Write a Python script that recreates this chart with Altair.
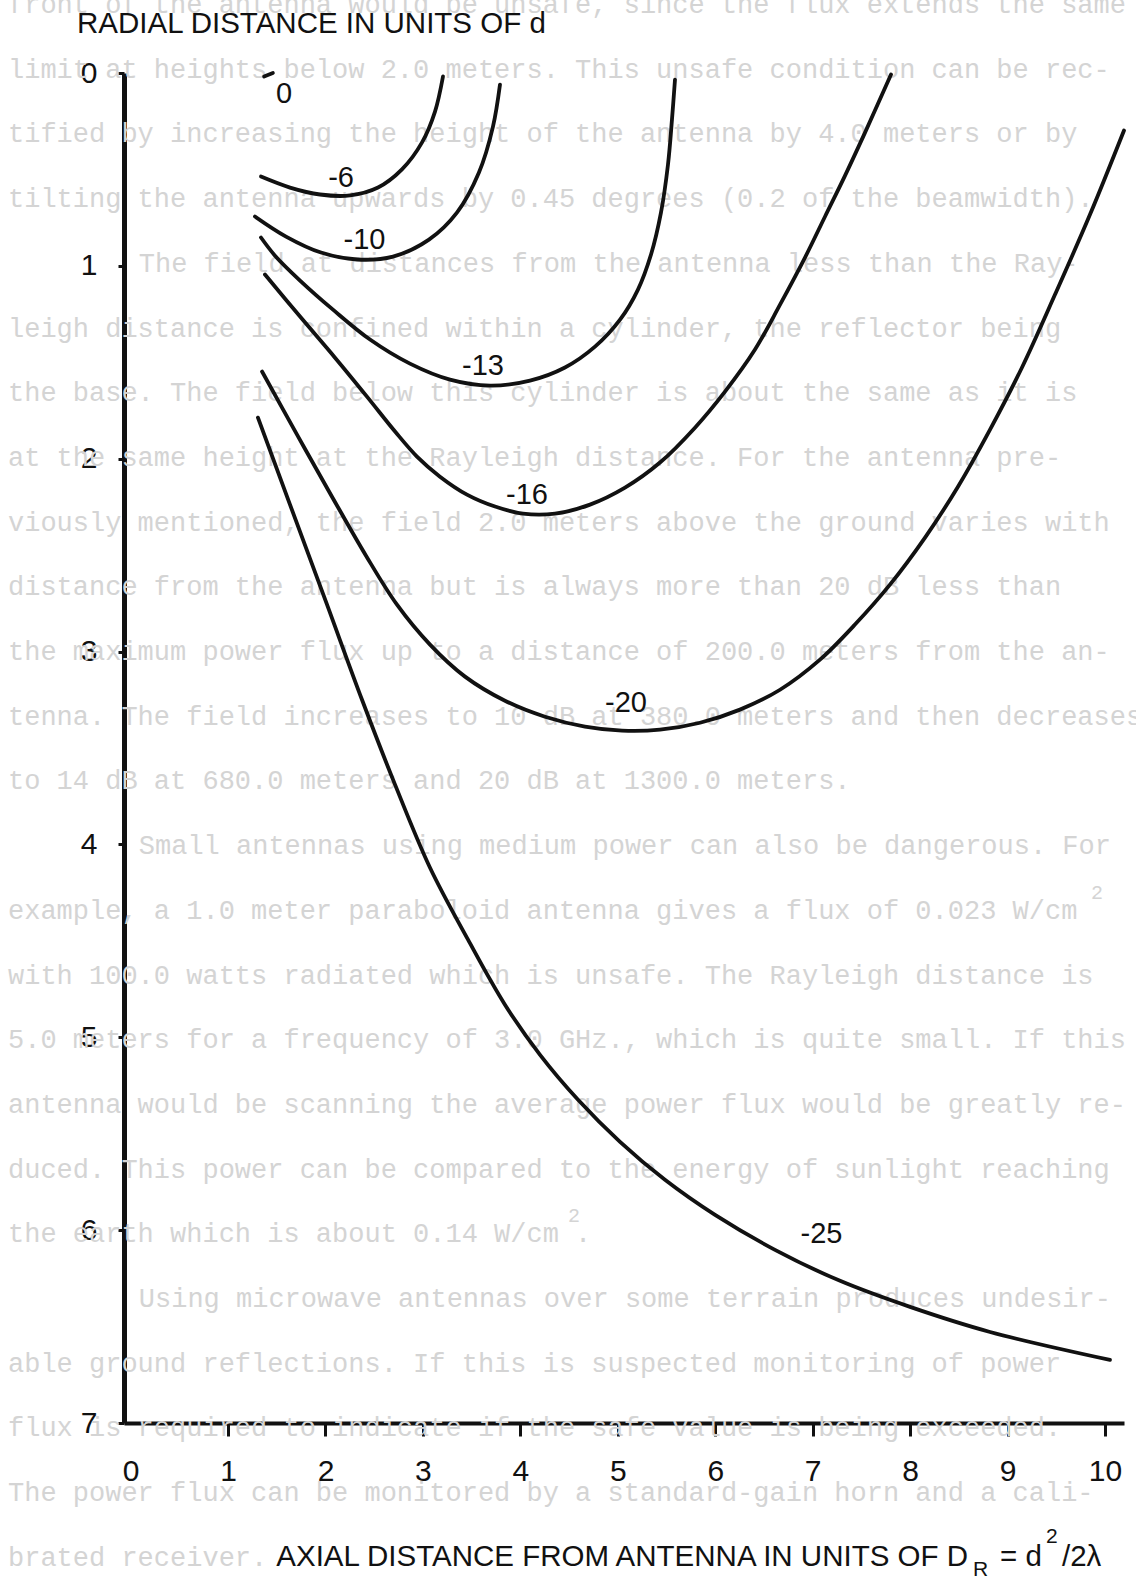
import altair as alt
import pandas as pd

# ---------------------------------------------------------------
# Near-field power-density contours (dB) of a paraboloid antenna
# ---------------------------------------------------------------
# axial distance in units of D_R = d^2/2lambda, radial distance in units of d

db0_x = [1.37, 1.46]
db0_y = [0.018, 0.0]

db6_x = [1.338, 1.636, 1.944, 2.252, 2.539, 2.785, 2.991, 3.124, 3.206]
db6_y = [0.537, 0.594, 0.630, 0.635, 0.594, 0.500, 0.360, 0.200, 0.018]

db10_x = [1.276, 1.595, 1.954, 2.323, 2.693, 3.062, 3.349, 3.575, 3.719, 3.791]
db10_y = [0.744, 0.848, 0.931, 0.967, 0.952, 0.864, 0.724, 0.516, 0.278, 0.060]

db13_x = [1.338, 1.482, 1.739, 2.077, 2.457, 2.867, 3.278, 3.689, 4.099, 4.458,
          4.766, 5.023, 5.207, 5.341, 5.443, 5.515, 5.556, 5.587]
db13_y = [0.853, 0.947, 1.076, 1.227, 1.382, 1.507, 1.590, 1.621, 1.595, 1.527,
          1.419, 1.279, 1.123, 0.941, 0.724, 0.475, 0.241, 0.034]

db16_x = [1.379, 1.739, 2.098, 2.426, 2.714, 2.939, 3.175, 3.452, 3.740, 4.027,
          4.356, 4.715, 5.074, 5.433, 5.792, 6.100, 6.408, 6.665, 6.921, 7.127,
          7.332, 7.537, 7.804]
db16_y = [1.045, 1.263, 1.476, 1.678, 1.859, 1.989, 2.093, 2.186, 2.248, 2.285,
          2.285, 2.238, 2.150, 2.020, 1.839, 1.652, 1.434, 1.201, 0.957, 0.744,
          0.532, 0.309, 0.008]

db20_x = [1.349, 1.708, 2.067, 2.416, 2.734, 3.073, 3.432, 3.842, 4.253, 4.663,
          5.043, 5.433, 5.844, 6.254, 6.665, 7.075, 7.434, 7.793, 8.153, 8.491,
          8.820, 9.148, 9.487, 9.846, 10.195]
db20_y = [1.548, 1.875, 2.197, 2.503, 2.757, 2.964, 3.130, 3.255, 3.338, 3.389,
          3.410, 3.405, 3.369, 3.301, 3.198, 3.042, 2.860, 2.653, 2.409, 2.145,
          1.849, 1.527, 1.149, 0.734, 0.298]

db25_x = [1.307, 1.636, 2.016, 2.375, 2.714, 3.073, 3.463, 3.842, 4.202, 4.592,
          5.023, 5.484, 5.998, 6.613, 7.281, 7.999, 8.820, 10.051]
db25_y = [1.787, 2.238, 2.757, 3.250, 3.690, 4.121, 4.494, 4.831, 5.091, 5.324,
          5.542, 5.739, 5.921, 6.102, 6.263, 6.398, 6.528, 6.673]

levels = ["0", "-6", "-10", "-13", "-16", "-20", "-25"]
label_x = [1.574, 2.16, 2.40, 3.617, 4.068, 5.084, 7.09]
label_y = [0.111, 0.542, 0.864, 1.517, 2.186, 3.265, 6.02]

x_ticks = list(range(0, 11))
y_ticks = list(range(0, 8))

# typed page text surrounding the figure
page_lines = [
    "front of the antenna would be unsafe, since the flux extends the same",
    "limit at heights below 2.0 meters. This unsafe condition can be rec-",
    "tified by increasing the height of the antenna by 4.0 meters or by",
    "tilting the antenna upwards by 0.45 degrees (0.2 of the beamwidth).",
    "        The field at distances from the antenna less than the Ray-",
    "leigh distance is confined within a cylinder, the reflector being",
    "the base. The field below this cylinder is about the same as it is",
    "at the same height at the Rayleigh distance. For the antenna pre-",
    "viously mentioned, the field 2.0 meters above the ground varies with",
    "distance from the antenna but is always more than 20 dB less than",
    "the maximum power flux up to a distance of 200.0 meters from the an-",
    "tenna. The field increases to 10 dB at 380.0 meters and then decreases",
    "to 14 dB at 680.0 meters and 20 dB at 1300.0 meters.",
    "        Small antennas using medium power can also be dangerous. For",
    "example, a 1.0 meter paraboloid antenna gives a flux of 0.023 W/cm",
    "with 100.0 watts radiated which is unsafe. The Rayleigh distance is",
    "5.0 meters for a frequency of 3.0 GHz., which is quite small. If this",
    "antenna would be scanning the average power flux would be greatly re-",
    "duced. This power can be compared to the energy of sunlight reaching",
    "the earth which is about 0.14 W/cm .",
    "        Using microwave antennas over some terrain produces undesir-",
    "able ground reflections. If this is suspected monitoring of power",
    "flux is required to indicate if the safe value is being exceeded.",
    "The power flux can be monitored by a standard-gain horn and a cali-",
    "brated receiver.",
]
page_sup_row = [14, 19]
page_sup_col = [66, 34]

# ---------------------------------------------------------------
FONT = "Liberation Sans, Arial, Helvetica, sans-serif"
MONO = "Liberation Mono, DejaVu Sans Mono, monospace"
INK = "#111111"
FAINT = "#d4d4d4"

series = {
    "0": (db0_x, db0_y), "-6": (db6_x, db6_y), "-10": (db10_x, db10_y),
    "-13": (db13_x, db13_y), "-16": (db16_x, db16_y),
    "-20": (db20_x, db20_y), "-25": (db25_x, db25_y),
}
rows = []
for lev, (xs, ys) in series.items():
    for i, (xv, yv) in enumerate(zip(xs, ys)):
        rows.append({"level": lev, "seq": i, "x": xv, "y": yv})
curves_df = pd.DataFrame(rows)
labels_df = pd.DataFrame({"level": levels, "x": label_x, "y": label_y})
page_df = pd.DataFrame({"row": range(len(page_lines)), "line": page_lines})
sup_df = pd.DataFrame({"row": page_sup_row, "col": page_sup_col})

x_scale = alt.Scale(domain=[-0.0677, 10.195], nice=False, zero=False)
y_scale = alt.Scale(domain=[0, 7], reverse=True, nice=False, zero=False)

# the x tick at the origin is hidden: it would merge with the vertical axis
x_axis = alt.Axis(values=x_ticks, format="d", title=None, grid=False,
                  domainWidth=4, domainColor=INK,
                  tickColor=alt.condition("datum.value == 0",
                                          alt.value("transparent"),
                                          alt.value(INK)),
                  tickWidth=3, tickSize=13, labelFont=FONT, labelFontSize=30,
                  labelColor=INK, labelPadding=20, labelFlush=False,
                  labelOverlap=False)
y_axis = alt.Axis(values=y_ticks, format="d", title=None, grid=False,
                  domainWidth=5, domainColor=INK, tickColor=INK, tickWidth=3,
                  tickSize=6, labelFont=FONT, labelFontSize=30,
                  labelColor=INK, labelPadding=21, labelFlush=False,
                  labelOverlap=False, labelBaseline="middle")

# faint page text in the background
page = alt.Chart(page_df).transform_calculate(
    indent="length(datum.line) - length(trim(datum.line))",
    txt="trim(datum.line)",
).transform_calculate(
    px="-116 + datum.indent * 16.35",
    py="datum.row * 64.7 - 68",
).mark_text(font=MONO, fontSize=27, color=FAINT, align="left",
            baseline="middle").encode(
    x=alt.X("px:Q", scale=None, axis=None),
    y=alt.Y("py:Q", scale=None, axis=None),
    text="txt:N",
)
page_sup = alt.Chart(sup_df).transform_calculate(
    px="-112 + datum.col * 16.35",
    py="datum.row * 64.7 - 86",
).mark_text(font=MONO, fontSize=20, color=FAINT, align="left",
            baseline="middle", text="2").encode(
    x=alt.X("px:Q", scale=None, axis=None),
    y=alt.Y("py:Q", scale=None, axis=None),
)

curves = alt.Chart(curves_df).mark_line(
    interpolate="catmull-rom", color=INK, strokeWidth=3.8, strokeCap="round"
).encode(
    x=alt.X("x:Q", scale=x_scale, axis=x_axis),
    y=alt.Y("y:Q", scale=y_scale, axis=y_axis),
    detail="level:N",
    order="seq:Q",
)

level_text = alt.Chart(labels_df).mark_text(
    font=FONT, fontSize=29, color=INK, align="center", baseline="middle"
).encode(x="x:Q", y="y:Q", text="level:N")

one = pd.DataFrame({"k": [0]})


def note(text, x, y, size=29.5, align="left", baseline="alphabetic"):
    return alt.Chart(one).mark_text(
        text=text, font=FONT, fontSize=size, color=INK, align=align,
        baseline=baseline
    ).encode(x=alt.value(x), y=alt.value(y))


y_title = note("RADIAL DISTANCE IN UNITS OF d", -47, -40)
x_title = alt.layer(
    note("AXIAL DISTANCE FROM ANTENNA IN UNITS OF D", 844, 1493, align="right"),
    note("R", 849, 1503, size=21),
    note("= d", 876, 1493),
    note("2", 922, 1470, size=21),
    note("/2\u03bb", 938, 1493),
)

chart = alt.layer(
    page, page_sup, curves, level_text, y_title, x_title
).properties(
    width=1000,
    height=1350,
    padding={"left": 124, "top": 73, "right": 12, "bottom": 157},
    autosize=alt.AutoSizeParams(type="none"),
    background="white",
).configure_view(stroke=None)

chart.save("out.html", embed_options={"renderer": "svg", "actions": False})
